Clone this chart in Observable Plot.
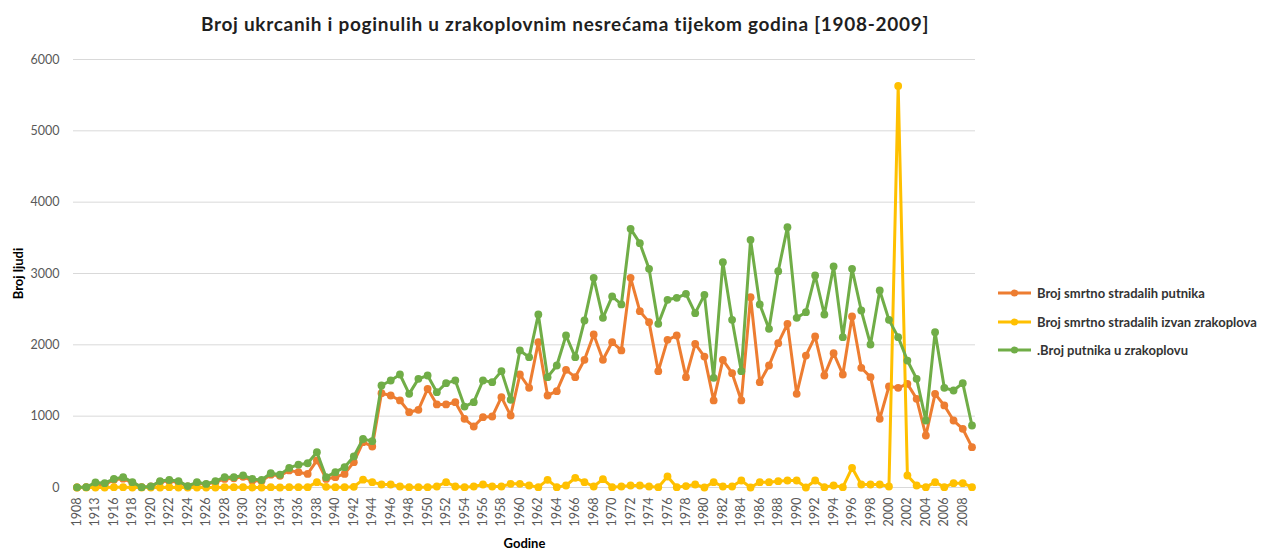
<!DOCTYPE html>
<html><head><meta charset="utf-8">
<script src="https://cdn.jsdelivr.net/npm/d3@7"></script>
<script src="https://cdn.jsdelivr.net/npm/@observablehq/plot@0.6"></script>
<style>
body{margin:0;background:#fff;font-family:Lato,"Open Sans",sans-serif;}
#wrap{position:relative;width:1264px;height:551px;overflow:hidden;background:#fff;}
#title{height:45px;box-sizing:border-box;padding-top:13px;width:1130px;text-align:center;font-weight:bold;font-size:19px;letter-spacing:0.7px;line-height:22px;color:#1f1f1f;}
#legend{position:absolute;left:998px;top:279px;}
.item{display:flex;align-items:center;height:28.5px;font-weight:bold;font-size:13px;color:#333;white-space:nowrap;}
.item svg{margin-right:6px;}
</style></head>
<body><div id="wrap"><div id="title">Broj ukrcanih i poginulih u zrakoplovnim nesrećama tijekom godina [1908-2009]</div><div id="chart"></div><div id="legend"></div></div>
<script>
const years = ["1908","1912","1913","1915","1916","1917","1918","1919","1920","1921","1922","1923","1924","1925","1926","1927","1928","1929","1930","1931","1932","1933","1934","1935","1936","1937","1938","1939","1940","1941","1942","1943","1944","1945","1946","1947","1948","1949","1950","1951","1952","1953","1954","1955","1956","1957","1958","1959","1960","1961","1962","1963","1964","1965","1966","1967","1968","1969","1970","1971","1972","1973","1974","1975","1976","1977","1978","1979","1980","1981","1982","1983","1984","1985","1986","1987","1988","1989","1990","1991","1992","1993","1994","1995","1996","1997","1998","1999","2000","2001","2002","2003","2004","2005","2006","2007","2008","2009"];
const tickLabels = ["1908","1913","1916","1918","1920","1922","1924","1926","1928","1930","1932","1934","1936","1938","1940","1942","1944","1946","1948","1950","1952","1954","1956","1958","1960","1962","1964","1966","1968","1970","1972","1974","1976","1978","1980","1982","1984","1986","1988","1990","1992","1994","1996","1998","2000","2002","2004","2006","2008"];
const yTicks = [0,1000,2000,3000,4000,5000,6000];
const seriesNames = ["Broj smrtno stradalih putnika","Broj smrtno stradalih izvan zrakoplova",".Broj putnika u zrakoplovu"];
const seriesColors = ["#ED7D31","#FFC000","#70AD47"];
const fatalities = [1,5,45,40,108,124,65,5,14,80,90,75,15,60,45,75,120,130,150,95,90,180,165,240,215,190,380,120,145,190,355,635,575,
1322,1290,1220,1056,1089,1383,1164,1164,1196,963,855,986,995,1266,1009,1584,1397,2037,1290,1350,1650,1547,1790,2145,1790,2037,1921,2939,2472,2318,1631,2070,2131,1547,
2014,1836,1220,1790,1603,1220,2668,1477,1710,2023,2294,1313,1850,2117,1570,1883,1584,2397,1678,1547,963,1416,1397,1453,1243,729,1313,1150,939,822,565];
const ground = [0,0,0,0,5,5,0,0,0,0,5,0,0,0,0,0,5,5,5,0,0,5,0,5,5,5,75,10,5,5,10,110,75,
42,42,14,5,5,5,14,75,14,5,14,42,14,14,51,51,28,5,107,5,28,135,75,14,117,5,14,28,28,14,5,154,5,20,
42,0,75,14,14,98,0,75,75,89,98,98,0,98,5,28,5,276,42,42,42,14,5630,168,28,5,75,5,61,61,5];
const aboard = [2,5,70,60,120,145,75,5,15,90,105,90,20,75,50,90,145,145,170,120,105,200,180,275,320,340,495,145,215,285,435,680,650,
1430,1500,1584,1313,1523,1570,1336,1463,1500,1135,1196,1500,1477,1631,1229,1921,1827,2425,1547,1710,2131,1827,2341,2939,2379,2678,2566,3626,3425,3065,2294,2631,2659,2715,
2444,2701,1537,3159,2350,1631,3472,2566,2224,3033,3650,2379,2458,2972,2425,3098,2108,3065,2481,2005,2762,2350,2108,1780,1523,939,2178,1397,1360,1463,869];

const allSeries = [fatalities, ground, aboard];
const seriesMarks = allSeries.flatMap((vals, s) => {
  const data = years.map((y, i) => ({year: y, value: vals[i]}));
  return [
    Plot.line(data, {x: "year", y: "value", stroke: seriesColors[s], strokeWidth: 3, strokeLinejoin: "round"}),
    Plot.dot(data, {x: "year", y: "value", r: 3.9, fill: seriesColors[s], stroke: "none"})
  ];
});

const chart = Plot.plot({
  width: 1264, height: 506,
  marginTop: 14, marginBottom: 64, marginLeft: 73, marginRight: 289,
  style: {fontFamily: "Lato, 'Open Sans', sans-serif", fontSize: "12.5px", color: "#595959", background: "#fff", overflow: "visible"},
  x: {type: "point", domain: years, padding: 0.38, round: false},
  y: {domain: [0, 6000]},
  marks: [
    Plot.gridY(yTicks, {stroke: "#d9d9d9", strokeOpacity: 1, strokeWidth: 1}),
    Plot.axisY(yTicks, {tickSize: 0, tickPadding: 14, tickFormat: d => String(d), label: "Broj ljudi", labelAnchor: "center", labelOffset: 60, fill: "#595959"}),
    Plot.axisX(tickLabels, {tickSize: 0, tickPadding: 10, tickRotate: -90, label: "Godine", labelAnchor: "center", labelOffset: 60, fill: "#595959"}),
    ...seriesMarks
  ]
});
document.getElementById("chart").appendChild(chart);
const axisLabelText = {"x-axis label": "Godine", "y-axis label": "Broj ljudi"};
Object.entries(axisLabelText).forEach(([key, txt]) => {
  chart.querySelectorAll(`[aria-label="${key}"]`).forEach(g => {
    g.setAttribute("fill", "#000");
    g.style.fontWeight = "bold";
    g.style.fontSize = "13px";
    g.querySelectorAll("text").forEach(t => { t.setAttribute("fill", "#000"); t.textContent = txt; });
  });
});

const legend = document.getElementById("legend");
seriesNames.forEach((name, s) => {
  const item = document.createElement("div");
  item.className = "item";
  item.innerHTML = `<svg width="33" height="10"><line x1="0" y1="5" x2="33" y2="5" stroke="${seriesColors[s]}" stroke-width="3"/><circle cx="16.5" cy="5" r="3.6" fill="${seriesColors[s]}"/></svg><span>${name}</span>`;
  legend.appendChild(item);
});
</script></body></html>
